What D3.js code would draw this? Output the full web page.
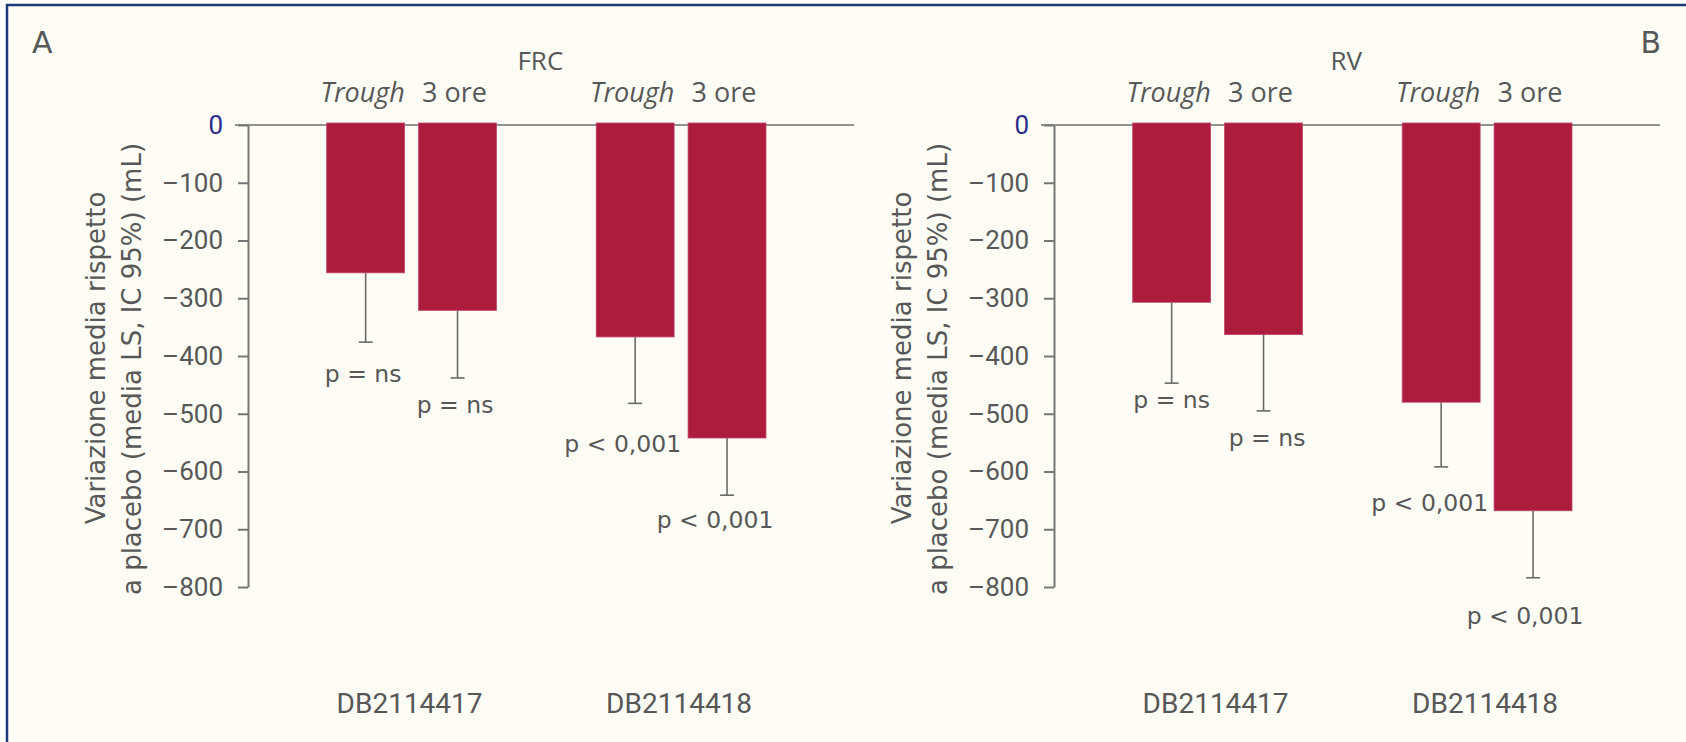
<!DOCTYPE html>
<html>
<head>
<meta charset="utf-8">
<script src="https://cdn.jsdelivr.net/npm/d3@7"></script>
<style>
  html, body { margin: 0; padding: 0; background: #ffffff; }
  svg { display: block; }
</style>
</head>
<body>
<svg id="chart" width="1686" height="742"></svg>
<script>
// ---- data (mL, mean change vs placebo with lower 95% CI bound) ----
const studies = ["DB2114417", "DB2114418"];
const timepoints = ["Trough", "3 ore"];

const frcMean  = [[-256, -321], [-367, -542]];
const frcLower = [[-376, -438], [-482, -641]];
const frcP     = [["p = ns", "p = ns"], ["p < 0,001", "p < 0,001"]];

const rvMean  = [[-307, -363], [-480, -668]];
const rvLower = [[-447, -495], [-592, -784]];
const rvP     = [["p = ns", "p = ns"], ["p < 0,001", "p < 0,001"]];

const yTicks = [0, -100, -200, -300, -400, -500, -600, -700, -800];
const yTitleLines = ["Variazione media rispetto", "a placebo (media LS, IC 95%) (mL)"];

// ---- layout ----
const W = 1686, H = 742;
const barColor = "#ad1b3d";
const textColor = "#575757";
const lineColor = "#767676";

// placement of the p-value notes relative to the CI cap (per study, per timepoint)
const pNudge = {
  FRC: [[{ dx: -2.5, dy: 40, anchor: "middle" }, { dx: -2.5, dy: 35, anchor: "middle" }],
        [{ dx: 46, dy: 49, anchor: "end" },      { dx: -12, dy: 33, anchor: "middle" }]],
  RV:  [[{ dx: 0, dy: 25, anchor: "middle" },    { dx: 3.5, dy: 35, anchor: "middle" }],
        [{ dx: 47, dy: 44, anchor: "end" },      { dx: -8, dy: 46, anchor: "middle" }]]
};

const panels = [
  { key: "FRC", letter: "A", mean: frcMean, lower: frcLower, p: frcP, off: 0,
    letterX: 32, letterAnchor: "start", titleY: [358, 369] },
  { key: "RV",  letter: "B", mean: rvMean,  lower: rvLower,  p: rvP,  off: 806,
    letterX: 1661, letterAnchor: "end", titleY: [358, 369] }
];

const svg = d3.select("#chart");

// frame
svg.append("rect").attr("x", 0).attr("y", 0).attr("width", W).attr("height", H).attr("fill", "#ffffff");
svg.append("rect")
  .attr("x", 7).attr("y", 5).attr("width", W + 20).attr("height", H + 20)
  .attr("fill", "#fdfdf6").attr("stroke", "#1d3a7a").attr("stroke-width", 2.5);

const y = d3.scaleLinear().domain([0, -800]).range([125, 587]);

panels.forEach(pn => {
  const g = svg.append("g").attr("transform", `translate(${pn.off},0)`);

  const x0 = d3.scaleBand().domain(studies).range([326.7, 766]).paddingInner(0.37).paddingOuter(0);
  const x1 = d3.scaleBand().domain(timepoints).range([0, x0.bandwidth()]).paddingInner(0.152).paddingOuter(0);
  const axisX = 248;

  // panel letter
  svg.append("text")
    .attr("x", pn.letterX).attr("y", 53)
    .attr("text-anchor", pn.letterAnchor)
    .attr("font-family", "DejaVu Sans").attr("font-size", 30)
    .attr("fill", textColor).text(pn.letter);

  // panel title
  const mid = (x0(studies[0]) + x0(studies[1]) + x0.bandwidth()) / 2;
  g.append("text")
    .attr("x", mid - 6).attr("y", 70)
    .attr("text-anchor", "middle")
    .attr("font-family", "Open Sans").attr("font-size", 26)
    .attr("fill", textColor).text(pn.key);

  // timepoint headers
  studies.forEach(s => {
    timepoints.forEach((t, j) => {
      g.append("text")
        .attr("x", x0(s) + x1(t) + x1.bandwidth() / 2 - 3)
        .attr("y", 101.5)
        .attr("text-anchor", "middle")
        .attr("font-family", "Open Sans").attr("font-size", 27)
        .attr("font-style", j === 0 ? "italic" : "normal")
        .attr("fill", textColor).text(t);
    });
  });

  // zero reference line
  g.append("line")
    .attr("x1", 235).attr("x2", 854)
    .attr("y1", y(0)).attr("y2", y(0))
    .attr("stroke", "#6e6e6e").attr("stroke-width", 1.6);

  // y axis
  const axis = d3.axisLeft(y)
    .tickValues(yTicks)
    .tickSize(10).tickSizeOuter(0).tickPadding(15)
    .tickFormat(d => d === 0 ? "0" : "\u2013" + Math.abs(d));
  const ag = g.append("g").attr("transform", `translate(${axisX},0)`).call(axis);
  ag.select(".domain").attr("stroke", lineColor).attr("stroke-width", 2);
  ag.selectAll(".tick line").attr("stroke", lineColor).attr("stroke-width", 2);
  ag.selectAll(".tick text")
    .attr("font-family", "Roboto").attr("font-size", 26)
    .attr("fill", d => d === 0 ? "#2c2c8c" : textColor);

  // y axis title
  yTitleLines.forEach((line, i) => {
    g.append("text")
      .attr("transform", `translate(${i === 0 ? 105 : 141},${pn.titleY[i]}) rotate(-90)`)
      .attr("text-anchor", "middle")
      .attr("font-family", "DejaVu Sans").attr("font-size", 26)
      .attr("fill", textColor).text(line);
  });

  // bars, CI whiskers, p-values
  studies.forEach((s, i) => {
    timepoints.forEach((t, j) => {
      const bx = x0(s) + x1(t);
      const bw = x1.bandwidth();
      const cx = bx + bw / 2;
      const m = pn.mean[i][j];
      const lo = pn.lower[i][j];

      g.append("rect")
        .attr("x", bx).attr("y", y(0) - 2)
        .attr("width", bw).attr("height", y(m) - y(0) + 2)
        .attr("fill", barColor)
        .attr("stroke", "#c2466a").attr("stroke-width", 0.8);

      g.append("line")
        .attr("x1", cx).attr("x2", cx)
        .attr("y1", y(m)).attr("y2", y(lo))
        .attr("stroke", "#6a6a6a").attr("stroke-width", 1.6);
      g.append("line")
        .attr("x1", cx - 7).attr("x2", cx + 7)
        .attr("y1", y(lo)).attr("y2", y(lo))
        .attr("stroke", "#6a6a6a").attr("stroke-width", 1.6);

      const nd = pNudge[pn.key][i][j];
      g.append("text")
        .attr("x", cx + nd.dx).attr("y", y(lo) + nd.dy)
        .attr("text-anchor", nd.anchor)
        .attr("font-family", "DejaVu Sans").attr("font-size", 23.5)
        .attr("fill", textColor).text(pn.p[i][j]);
    });

    // study label
    g.append("text")
      .attr("x", x0(s) + x0.bandwidth() / 2 - 2).attr("y", 713)
      .attr("text-anchor", "middle")
      .attr("font-family", "Roboto").attr("font-size", 28)
      .attr("fill", textColor).text(s);
  });
});
</script>
</body>
</html>
